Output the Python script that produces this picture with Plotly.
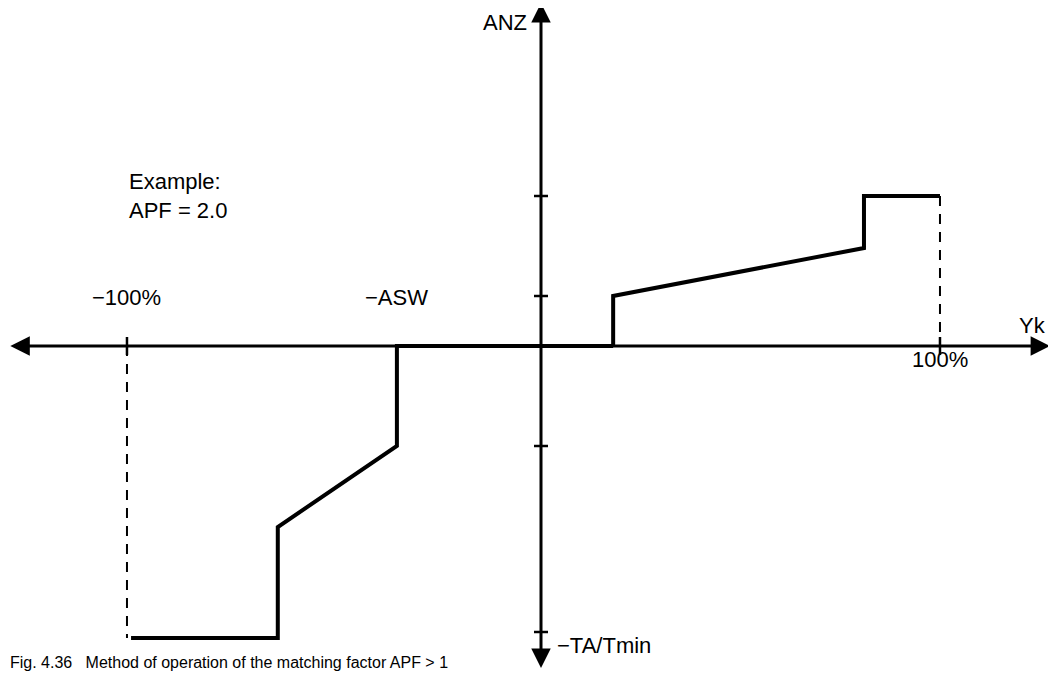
import plotly.graph_objects as go

# characteristic curve (Yk in %, ANZ in relative units)
pos_x = [19.6, 19.6, 81.3, 81.3, 100]
pos_y = [0, 0.5, 0.98, 1.5, 1.5]
neg_x = [19.6, -33.6, -33.6, -62.9, -62.9, -99]
neg_y = [0, 0, -1.0, -1.81, -2.92, -2.92]

# dashed limit lines at +-100 %
lim_pos_x = [100, 100]
lim_pos_y = [1.5, 0]
lim_neg_x = [-100, -100]
lim_neg_y = [0, -2.92]

y_ticks = [1.5, 0.5, -1.0, -2.86]
x_ticks = [-100, 100]

FONT = "Liberation Sans, Arial, sans-serif"
INK = "black"
y_axis_at = 1.85  # x position of the ANZ axis

fig = go.Figure()

fig.add_trace(go.Scatter(x=pos_x, y=pos_y, mode="lines",
                         line=dict(color=INK, width=4), hoverinfo="skip"))
fig.add_trace(go.Scatter(x=neg_x, y=neg_y, mode="lines",
                         line=dict(color=INK, width=4), hoverinfo="skip"))
fig.add_trace(go.Scatter(x=lim_pos_x, y=lim_pos_y, mode="lines",
                         line=dict(color=INK, width=2, dash="10px,8px"), hoverinfo="skip"))
fig.add_trace(go.Scatter(x=lim_neg_x, y=lim_neg_y, mode="lines",
                         line=dict(color=INK, width=2, dash="10px,8px"), hoverinfo="skip"))

# axes with arrows
arrows = [
    dict(x=-128.7, y=0, ax=y_axis_at, ay=0),
    dict(x=127.1, y=0, ax=y_axis_at, ay=0),
    dict(x=y_axis_at, y=3.43, ax=y_axis_at, ay=0),
    dict(x=y_axis_at, y=-3.22, ax=y_axis_at, ay=0),
]
for a in arrows:
    fig.add_annotation(x=a["x"], y=a["y"], ax=a["ax"], ay=a["ay"], axref="x", ayref="y",
                       text="", showarrow=True, arrowhead=2, arrowsize=1.3,
                       arrowwidth=3, arrowcolor=INK)

# ticks
for t in y_ticks:
    fig.add_shape(type="line", xref="x", yref="y", xsizemode="pixel", xanchor=y_axis_at,
                  x0=-7, x1=7, y0=t, y1=t, line=dict(color=INK, width=2.5))
for t in x_ticks:
    fig.add_shape(type="line", xref="x", yref="y", ysizemode="pixel", yanchor=0,
                  y0=-9, y1=9, x0=t, x1=t, line=dict(color=INK, width=2.5))

txt = dict(font=dict(family=FONT, size=22, color=INK), showarrow=False)
fig.add_annotation(x=y_axis_at, y=3.24, text="ANZ", xanchor="right", xshift=-12, **txt)
fig.add_annotation(x=126.5, y=0.21, text="Yk", xanchor="right", **txt)
fig.add_annotation(x=-100, y=0.49, text="\u2212100%", xanchor="center", **txt)
fig.add_annotation(x=-33.6, y=0.49, text="\u2212ASW", xanchor="center", **txt)
fig.add_annotation(x=100, y=-0.13, text="100%", xanchor="center", **txt)
fig.add_annotation(x=y_axis_at, y=-2.99, text="\u2212TA/Tmin", xanchor="left", xshift=14, **txt)
fig.add_annotation(x=-100, y=1.50, text="Example:<br>APF = 2.0", xanchor="left",
                   align="left", **txt)
fig.add_annotation(x=-129.2, y=-3.27, text="Fig. 4.36   Method of operation of the matching factor APF > 1",
                   xanchor="left", yanchor="bottom", showarrow=False,
                   font=dict(family=FONT, size=16, color=INK))

# the page adds an 8 px body margin, so the figure is 8 px smaller and ranges start there
fig.update_layout(
    width=1048, height=665,
    margin=dict(l=0, r=0, t=0, b=0),
    paper_bgcolor="white", plot_bgcolor="white",
    showlegend=False,
    xaxis=dict(range=[-129.27, 128.54], visible=False, fixedrange=True),
    yaxis=dict(range=[-3.27, 3.38], visible=False, fixedrange=True),
)

fig.write_html("out.html")
